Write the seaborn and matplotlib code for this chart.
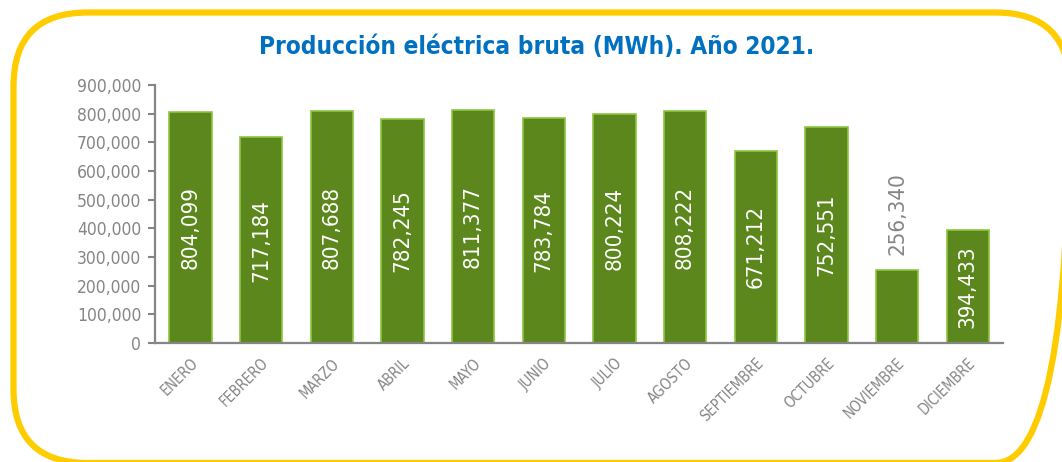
import pandas as pd
import matplotlib.pyplot as plt
import seaborn as sns
from matplotlib.patches import FancyBboxPatch

# Data
meses = ['ENERO', 'FEBRERO', 'MARZO', 'ABRIL', 'MAYO', 'JUNIO', 'JULIO',
         'AGOSTO', 'SEPTIEMBRE', 'OCTUBRE', 'NOVIEMBRE', 'DICIEMBRE']
produccion = [804099, 717184, 807688, 782245, 811377, 783784, 800224,
              808222, 671212, 752551, 256340, 394433]
y_ticks = [0, 100000, 200000, 300000, 400000, 500000, 600000, 700000, 800000, 900000]
titulo = 'Producción eléctrica bruta (MWh). Año 2021.'

sns.set_theme(style="white")
plt.rcParams['font.family'] = ['DejaVu Sans']

grey = '#858585'
df = pd.DataFrame({'mes': meses, 'mwh': produccion})

fig = plt.figure(figsize=(10.62, 4.62), dpi=100)

# background axes in pixel units, only used for the rounded yellow frame
bg = fig.add_axes([0, 0, 1, 1])
bg.set_xlim(0, 1062)
bg.set_ylim(462, 0)
bg.axis('off')
frame = FancyBboxPatch((13.5, 12.5), 1056, 450.5,
                       boxstyle='round,pad=0,rounding_size=74',
                       facecolor='none', edgecolor='#ffcc00', linewidth=4.5,
                       clip_on=False)
bg.add_patch(frame)

ax = fig.add_axes([0.146, 0.2576, 0.7985, 0.5584])
ax.patch.set_alpha(0)

sns.barplot(data=df, x='mes', y='mwh', color='#5b871c', width=0.6,
            edgecolor='#8cc63f', linewidth=1.2, saturation=1, ax=ax)

ax.set_xlim(-0.5, len(meses) - 0.5)
ax.set_ylim(0, 900000)
ax.set_yticks(y_ticks)
ax.set_yticklabels([f'{v:,}' for v in y_ticks], color=grey, fontsize=12.5,
                   fontstretch='condensed')
ax.set_xticks(range(len(meses)))
ax.set_xticklabels(meses, rotation=45, ha='right', rotation_mode='anchor',
                   color=grey, fontsize=10.5, fontstretch='condensed')
ax.tick_params(axis='y', direction='out', length=5, width=1.5, color=grey, left=True, pad=5)
ax.tick_params(axis='x', length=0, pad=9)
sns.despine(ax=ax)
ax.set_xlabel('')
ax.set_ylabel('')
for s in ['left', 'bottom']:
    ax.spines[s].set_color(grey)
    ax.spines[s].set_linewidth(1.6)

# bar labels: inside centred (white), above the bar for the short one (grey)
for i, v in enumerate(produccion):
    if v < 300000:
        ax.text(i, v + 52000, f'{v:,}', rotation=90, ha='center', va='bottom',
                color=grey, fontsize=16, fontstretch='condensed')
    else:
        ax.text(i, v / 2, f'{v:,}', rotation=90, ha='center', va='center',
                color='white', fontsize=16, fontstretch='condensed')

fig.text(0.505, 0.898, titulo, ha='center', va='center', color='#0070c0',
         fontsize=17.5, fontweight='bold', fontstretch='condensed')

plt.savefig('out.png', dpi=100)
